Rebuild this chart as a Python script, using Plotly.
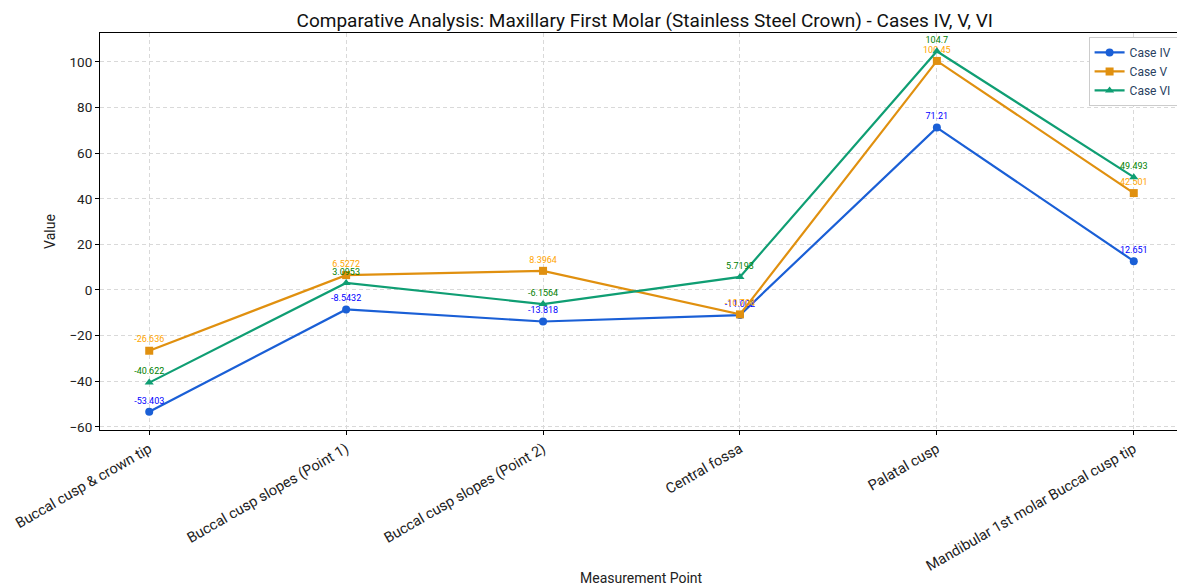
import plotly.graph_objects as go

categories = ["Buccal cusp & crown tip", "Buccal cusp slopes (Point 1)", "Buccal cusp slopes (Point 2)",
              "Central fossa", "Palatal cusp", "Mandibular 1st molar Buccal cusp tip"]
case_iv = [-53.403, -8.5432, -13.818, -11.002, 71.21, 12.651]
case_v = [-26.636, 6.5272, 8.3964, -10.704, 100.45, 42.501]
case_vi = [-40.622, 3.0953, -6.1564, 5.7193, 104.7, 49.493]
series = [
    ("Case IV", case_iv, "#1a5fd6", "blue", "circle"),
    ("Case V", case_v, "#e0900f", "orange", "square"),
    ("Case VI", case_vi, "#0f9e73", "green", "triangle-up"),
]

FONT = "Roboto, Open Sans, sans-serif"
fig = go.Figure()
x = list(range(len(categories)))
for name, vals, col, tcol, sym in series:
    fig.add_trace(go.Scatter(
        x=x, y=vals, name=name, mode="lines+markers+text",
        line=dict(color=col, width=2.2),
        marker=dict(symbol=sym, size=8, color=col),
        text=[f"{v:.5g}" for v in vals], textposition="top center",
        textfont=dict(color=tcol, size=9, family=FONT),
    ))

axis_common = dict(showline=True, linecolor="black", linewidth=1, mirror=True,
                   ticks="outside", ticklen=4, tickcolor="black", automargin=False,
                   showgrid=True, gridcolor="#d9d9d9", griddash="4px,3px", gridwidth=1,
                   zeroline=False)
fig.update_xaxes(tickmode="array", tickvals=x, ticktext=categories, tickangle=-30,
                 range=[-0.25, 5.25], tickfont=dict(size=14.5, color="#222", family=FONT),
                 **axis_common)
fig.update_yaxes(range=[-61.4, 112.7], dtick=20, tickfont=dict(size=13.5, color="#222", family=FONT),
                 title=dict(text="Value", font=dict(size=14, family=FONT, color="#222"), standoff=10),
                 **axis_common)
fig.add_annotation(text="Measurement Point", xref="paper", yref="paper", x=0.5, y=-0.373,
                   xanchor="center", yanchor="middle", showarrow=False,
                   font=dict(size=14, family=FONT, color="#222"))
fig.update_layout(
    width=1177, height=578,
    margin=dict(l=92, r=2, t=25, b=156, autoexpand=False),
    plot_bgcolor="white", paper_bgcolor="white",
    title=dict(text="Comparative Analysis: Maxillary First Molar (Stainless Steel Crown) - Cases IV, V, VI",
               x=0.541, xanchor="center", y=0.979, yanchor="middle", font=dict(size=19, color="#111", family=FONT)),
    legend=dict(x=0.995, y=0.99, xanchor="right", yanchor="top", bgcolor="white",
                bordercolor="#cccccc", borderwidth=1, font=dict(size=12, family=FONT),
                tracegroupgap=0),
    font=dict(family=FONT),
)
fig.write_html("out.html")
